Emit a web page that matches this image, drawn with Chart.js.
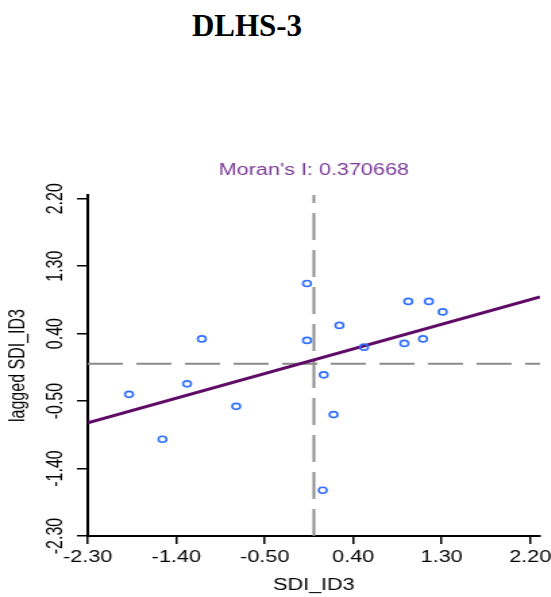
<!DOCTYPE html>
<html>
<head>
<meta charset="utf-8">
<script src="https://cdn.jsdelivr.net/npm/chart.js@4.4.1/dist/chart.umd.min.js"></script>
<style>
    body { margin: 0; background: #fff; width: 551px; height: 597px; overflow: hidden; position: relative; }
    #heading {
        position: absolute; left: 0; top: 10px; width: 494px; text-align: center;
        font-family: 'Liberation Serif', 'Times New Roman', serif; font-weight: bold;
        font-size: 31px; line-height: 31px; color: #000;
    }
    #myChart {
        position: absolute; left: 0; top: 0;
        transform: scaleX(1.35); transform-origin: 0 0;
    }
</style>
</head>
<body>
<div id="heading">DLHS-3</div>
<canvas id="myChart" width="408" height="597"></canvas>
<script>
let sdiX = [-1.88, -1.54, -1.29, -1.14, -0.79, -0.07, -0.07, 0.10, 0.20, 0.09, 0.26, 0.51, 0.92, 0.96, 1.11, 1.17, 1.31];
let laggedY = [-0.41, -1.01, -0.27, 0.33, -0.57, 1.07, 0.31, -0.15, -0.68, -1.69, 0.51, 0.22, 0.27, 0.83, 0.33, 0.83, 0.69];

// fitted line, end points
let fitX = [-2.30, 2.30];
let fitY = [-0.79, 0.89];

// dashed zero lines
let vLineX = [0, 0];
let vLineY = [-2.30, 2.25];
let hLineX = [-2.30, 2.30];
let hLineY = [0, 0];

let xTicks = [-2.30, -1.40, -0.50, 0.40, 1.30, 2.20];
let yTicks = [-2.30, -1.40, -0.50, 0.40, 1.30, 2.20];

let moranText = "Moran's I: 0.370668";
let myChart;

function toPoints(xs, ys) {
    return xs.map((x, i) => ({ x: x, y: ys[i] }));
}

const fontFamily = "'Liberation Sans', Arial, sans-serif";

const moranPlugin = {
    id: 'moran',
    afterDraw(chart) {
        let ctx = chart.ctx;
        let area = chart.chartArea;
        ctx.save();
        ctx.font = '16px ' + fontFamily;
        ctx.fillStyle = '#7b3a96';
        ctx.textAlign = 'center';
        ctx.textBaseline = 'middle';
        ctx.fillText(moranText, (area.left + area.right) / 2, 171);
        ctx.restore();
    }
};

const config = {
    type: 'scatter',
    data: {
        datasets: [
            {
                label: 'points',
                data: toPoints(sdiX, laggedY),
                borderColor: '#2f6fff',
                backgroundColor: 'rgba(0,0,0,0)',
                pointRadius: 3,
                pointBorderWidth: 1.6,
                showLine: false,
            }, {
                label: 'fit',
                data: toPoints(fitX, fitY),
                borderColor: '#5e0a66',
                borderWidth: 3,
                pointRadius: 0,
                showLine: true,
            }, {
                label: 'v0',
                data: toPoints(vLineX, vLineY),
                borderColor: '#8c8c8c',
                borderWidth: 2,
                borderDash: [27, 10],
                pointRadius: 0,
                showLine: true,
            }, {
                label: 'h0',
                data: toPoints(hLineX, hLineY),
                borderColor: '#8c8c8c',
                borderWidth: 2,
                borderDash: [26, 10],
                pointRadius: 0,
                showLine: true,
            }]
    },
    options: {
        responsive: false,
        animation: false,
        layout: {
            padding: { top: 195, right: 8, left: 0, bottom: 0 }
        },
        plugins: {
            legend: { display: false },
            tooltip: { enabled: false },
        },
        scales: {
            x: {
                type: 'linear',
                position: 'bottom',
                min: -2.30,
                max: 2.30,
                afterBuildTicks: (scale) => { scale.ticks = xTicks.map(v => ({ value: v })); },
                afterFit: (scale) => {
                    scale.height = 61;
                    scale.paddingLeft = 0;
                    scale.paddingRight = 0;
                },
                grid: { drawOnChartArea: false, drawTicks: true, tickLength: 8, tickColor: '#000', lineWidth: 1.5 },
                border: { display: true, color: '#000', width: 2 },
                ticks: {
                    color: '#000',
                    padding: 4,
                    maxRotation: 0,
                    font: { family: fontFamily, size: 16 },
                    callback: (v) => Number(v).toFixed(2),
                },
                title: {
                    display: true,
                    text: 'SDI_ID3',
                    color: '#000',
                    font: { family: fontFamily, size: 16 },
                    padding: { top: 0, bottom: 2 },
                },
            },
            y: {
                type: 'linear',
                position: 'left',
                min: -2.30,
                max: 2.25,
                afterBuildTicks: (scale) => { scale.ticks = yTicks.map(v => ({ value: v })); },
                afterFit: (scale) => {
                    scale.width = 65;
                    scale.paddingTop = 0;
                    scale.paddingBottom = 0;
                },
                grid: { drawOnChartArea: false, drawTicks: true, tickLength: 8, tickColor: '#000', lineWidth: 1.5 },
                border: { display: true, color: '#000', width: 2 },
                ticks: {
                    color: '#000',
                    padding: -3,
                    minRotation: 90,
                    maxRotation: 90,
                    crossAlign: 'center',
                    font: { family: fontFamily, size: 16 },
                    callback: (v) => Number(v).toFixed(2),
                },
                title: {
                    display: true,
                    text: 'lagged SDI_ID3',
                    color: '#000',
                    font: { family: fontFamily, size: 16 },
                    padding: { top: 4, bottom: 0 },
                },
            },
        },
    },
    plugins: [moranPlugin],
};

function init() {
    myChart = new Chart(
        document.getElementById('myChart'),
        config
    );
}

init();
</script>
</body>
</html>
